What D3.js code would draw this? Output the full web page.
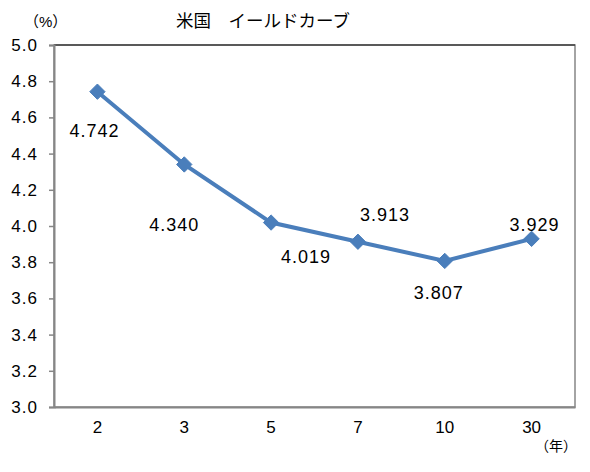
<!DOCTYPE html>
<html><head><meta charset="utf-8">
<script src="https://cdn.jsdelivr.net/npm/d3@7/dist/d3.min.js"></script>
<style>body{margin:0;background:#fff}text{font-family:"Liberation Sans","Noto Sans CJK JP",sans-serif;fill:#000}</style>
</head><body>
<script>
const categories = ["2","3","5","7","10","30"];
const values = [4.742, 4.340, 4.019, 3.913, 3.807, 3.929];
const labels = ["4.742","4.340","4.019","3.913","3.807","3.929"];
const yTicks = [3.0,3.2,3.4,3.6,3.8,4.0,4.2,4.4,4.6,4.8,5.0];
const W=590,H=472, L=54, R=575, T=45, B=407;
const svg=d3.select("body").append("svg").attr("width",W).attr("height",H);
const x=d3.scaleBand().domain(categories).range([L,R]);
const y=d3.scaleLinear().domain([3,5]).range([B,T]);
// plot border
svg.append("rect").attr("x",L).attr("y",T).attr("width",R-L).attr("height",B-T).attr("fill","none").attr("stroke","#868686").attr("stroke-width",1.5);
svg.append("line").attr("x1",L).attr("x2",R).attr("y1",T).attr("y2",T).attr("stroke","#404040").attr("stroke-width",1.5);
// y axis
const ya=svg.append("g").attr("transform",`translate(${L},0)`).call(d3.axisLeft(y).tickValues(yTicks).tickSize(5).tickFormat(d3.format(".1f")));
ya.select(".domain").attr("stroke","#868686").attr("stroke-width",2);
ya.selectAll(".tick line").attr("stroke","#868686").attr("stroke-width",1.5);
ya.selectAll(".tick text").attr("x",-16).attr("font-size","17px").attr("letter-spacing","1px").attr("fill","#000");
// x axis
const xa=svg.append("g").attr("transform",`translate(0,${B})`).call(d3.axisBottom(x).tickSize(0));
xa.select(".domain").attr("stroke","#868686").attr("stroke-width",2);
xa.selectAll(".tick text").attr("y",14).attr("font-size","17px").attr("fill","#000");
// line
const line=d3.line().x((d,i)=>x(categories[i])+x.bandwidth()/2).y(d=>y(d));
svg.append("path").datum(values).attr("d",line).attr("fill","none").attr("stroke","#4a7ebb").attr("stroke-width",4);
svg.selectAll(".m").data(values).enter().append("path")
 .attr("transform",(d,i)=>`translate(${x(categories[i])+x.bandwidth()/2},${y(d)})`)
 .attr("d",d3.symbol().type(d3.symbolDiamond2).size(150)).attr("fill","#4a7ebb").attr("stroke","#4a7ebb");
// data labels (offsets relative to point)
const off=[[-3,45],[-10,67],[35,40],[27,-21],[-6,38],[3,-8]];
svg.selectAll(".lbl").data(values).enter().append("text")
 .attr("x",(d,i)=>x(categories[i])+x.bandwidth()/2+off[i][0])
 .attr("y",(d,i)=>y(d)+off[i][1])
 .attr("text-anchor","middle").attr("font-size","18px").attr("letter-spacing","1px")
 .text((d,i)=>labels[i]);
svg.append("text").attr("x",24).attr("y",27).attr("font-size","15px").attr("font-family","Noto Sans CJK JP").text("（%）");
svg.append("text").attr("x",176).attr("y",27).attr("font-size","17.5px").attr("font-family","Noto Sans CJK JP").text("米国　イールドカーブ");
svg.append("text").attr("x",535).attr("y",451).attr("font-size","14px").attr("font-family","Noto Sans CJK JP").text("（年）");
</script>
</body></html>
